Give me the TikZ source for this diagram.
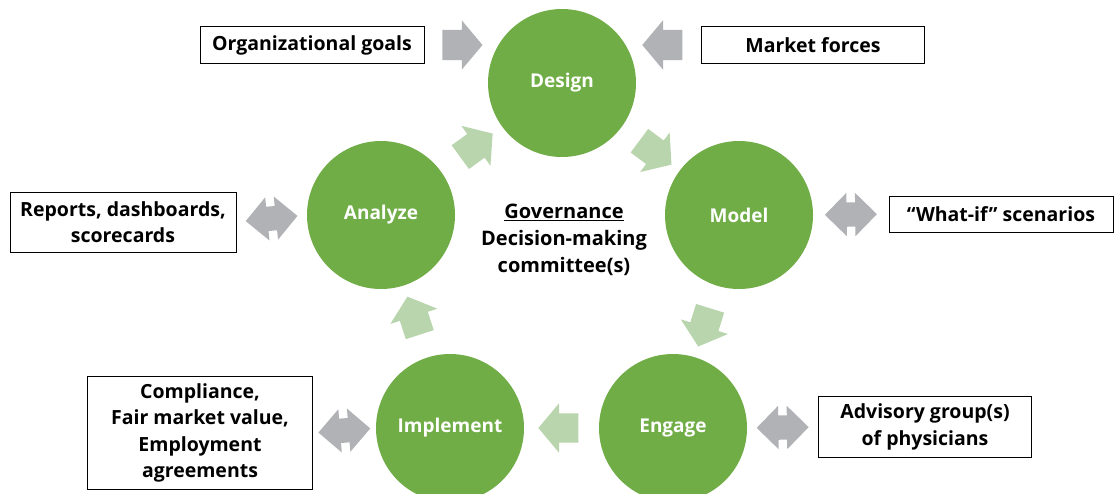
\documentclass[tikz,border=0pt]{standalone}
\usepackage{fontspec}
\setmainfont{Open Sans}
\usepackage{xcolor}
\usetikzlibrary{shapes.arrows, positioning}

\definecolor{leafgreen}{HTML}{70AD47}
\definecolor{palegreen}{HTML}{B9D5AD}
\definecolor{arrowgrey}{HTML}{B1B2B6}

\begin{document}
\begin{tikzpicture}[
    x=1pt, y=-1pt,
    stage/.style={circle, fill=leafgreen, minimum size=148pt, inner sep=0pt, text=white, font=\fontsize{19}{22}\selectfont\bfseries},
    infobox/.style={rectangle, draw=black, line width=0.8pt, align=center, inner sep=3pt, font=\fontsize{19.5}{26.5}\selectfont\bfseries},
    flow/.style={single arrow, fill=palegreen, minimum height=40pt, inner xsep=0pt, inner ysep=14.5pt, single arrow head extend=10pt, single arrow tip angle=100, sloped, allow upside down},
    push/.style={single arrow, fill=arrowgrey, minimum height=40pt, inner xsep=0pt, inner ysep=15pt, single arrow head extend=9.5pt, single arrow tip angle=100, sloped, allow upside down},
    swap/.style={double arrow, fill=arrowgrey, minimum height=52pt, inner xsep=0pt, inner ysep=12pt, double arrow head extend=9.5pt, double arrow tip angle=90, sloped}
]
\useasboundingbox (0,0) rectangle (1115,493);

% cycle stages
\node[stage] (design) at (562,83) {Design};
\node[stage] (model) at (739,215) {Model};
\node[stage] (engage) at (673,428) {Engage};
\node[stage] (implement) at (450,428) {Implement};
\node[stage] (analyze) at (381,215) {Analyze};

% centre
\node[align=center, font=\fontsize{20}{27}\selectfont\bfseries] (gov) at (564,240) {\underline{Governance}\\Decision-making\\committee(s)};

% side boxes
\node[infobox, minimum width=224pt, minimum height=37pt] (goals) at (312,45) {Organizational goals};
\node[infobox, minimum width=223pt, minimum height=37pt] (market) at (813,45) {Market forces};
\node[infobox, minimum width=224pt, minimum height=36pt] (whatif) at (1001,214) {“What-if” scenarios};
\node[infobox, minimum width=213pt, minimum height=61pt] (advisory) at (925,427) {Advisory group(s)\\of physicians};
\node[infobox, minimum width=225pt, minimum height=113pt] (legal) at (200,433) {Compliance,\\Fair market value,\\Employment\\agreements};
\node[infobox, minimum width=226pt, minimum height=60pt] (reports) at (123,222) {Reports, dashboards,\\scorecards};

% cycle arrows
\path (analyze) -- node[flow] {} (design);
\path (design) -- node[flow] {} (model);
\path (model) -- node[flow] {} (engage);
\path (engage) -- node[flow, pos=0.46] {} (implement);
\path (implement) -- node[flow] {} (analyze);

% inputs
\path (goals.east) -- node[push] {} (goals.east -| design.west);
\path (market.west) -- node[push] {} (market.west -| design.east);
\path (reports.east) -- node[swap] {} (analyze.west);
\path (model.east) -- node[swap] {} (whatif.west);
\path (engage.east) -- node[swap] {} (advisory.west);
\path (implement.west) -- node[swap] {} (legal.east);

\end{tikzpicture}
\end{document}
